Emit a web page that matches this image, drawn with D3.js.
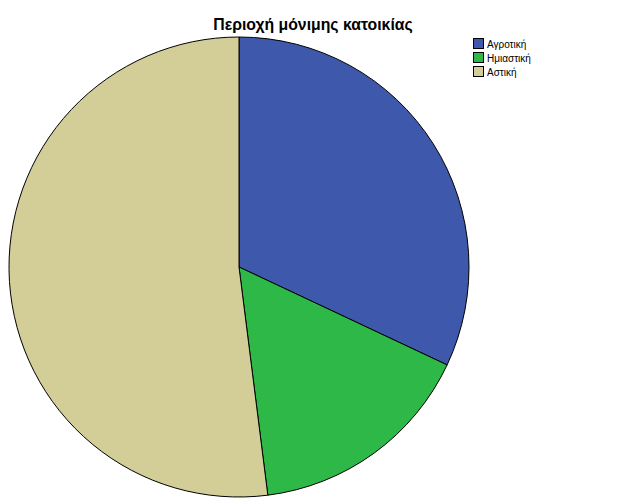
<!DOCTYPE html>
<html><head><meta charset="utf-8">
<script src="https://cdn.jsdelivr.net/npm/d3@7"></script>
<style>body{margin:0;background:#fff;}svg{display:block;}</style>
</head><body>
<svg id="c" width="629" height="504"></svg>
<script>
const categories = ["Αγροτική", "Ημιαστική", "Αστική"];
const values = [32.0, 16.0, 52.0];
const colors = ["#3e58ac", "#2eb848", "#d3ce97"];
const title = "Περιοχή μόνιμης κατοικίας";

const svg = d3.select("#c");
const cx = 239, cy = 267, r = 230;
const pie = d3.pie().sort(null).value(d => d)(values);
const arc = d3.arc().innerRadius(0).outerRadius(r);
const g = svg.append("g").attr("transform", `translate(${cx},${cy})`);
g.selectAll("path").data(pie).enter().append("path")
  .attr("d", arc).attr("fill", (d,i) => colors[i])
  .attr("stroke", "#000").attr("stroke-width", 1);

svg.append("text").attr("x", 313).attr("y", 30).attr("text-anchor", "middle")
  .attr("font-family", "Liberation Sans, Arial, sans-serif").attr("font-weight", "bold")
  .attr("font-size", 15.8).text(title);

const lg = svg.append("g").attr("font-family", "Liberation Sans, Arial, sans-serif").attr("font-size", 10);
categories.forEach((c, i) => {
  const y = 38 + i * 14;
  lg.append("rect").attr("x", 473.5).attr("y", y + 0.5).attr("width", 10).attr("height", 10)
    .attr("fill", colors[i]).attr("stroke", "#000").attr("stroke-width", 1);
  lg.append("text").attr("x", 487).attr("y", y + 9.5).text(c);
});
</script>
</body></html>
